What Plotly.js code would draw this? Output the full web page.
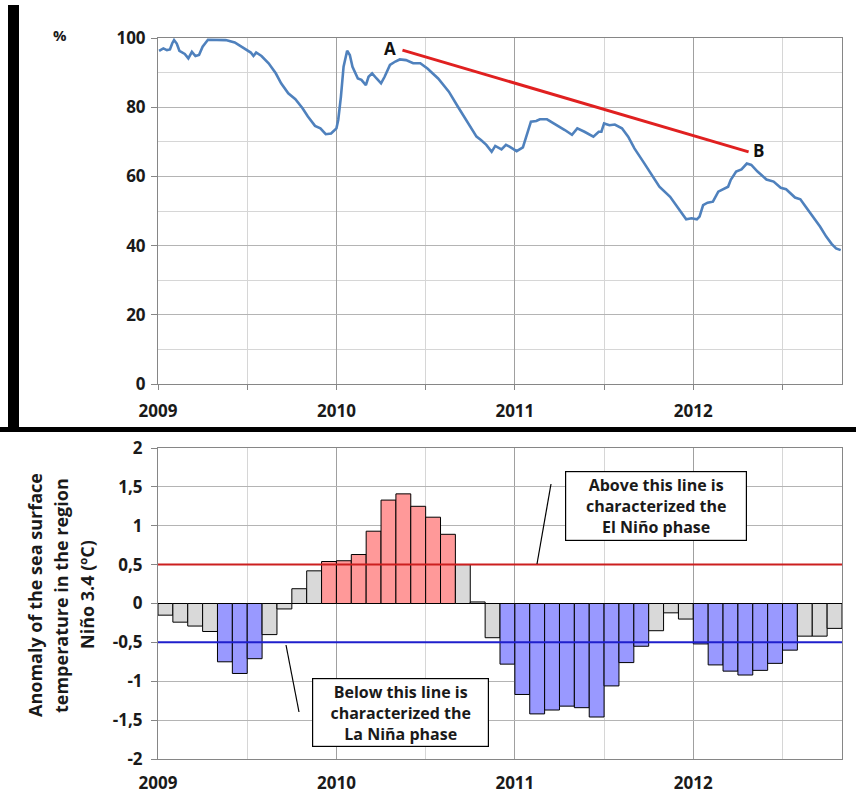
<!DOCTYPE html>
<html><head><meta charset="utf-8">
<script src="https://cdn.plot.ly/plotly-3.0.1.min.js"></script>
<style>html,body{margin:0;padding:0;background:#fff}#chart{width:856px;height:794px}</style>
</head><body><div id="chart"></div>
<script>
// ---------- data ----------
const humidityT = [2009.006,2009.03,2009.05,2009.067,2009.08,2009.09,2009.105,2009.12,2009.15,2009.17,2009.19,2009.21,2009.23,2009.25,2009.28,2009.30,2009.34,2009.38,2009.43,2009.48,2009.52,2009.535,2009.55,2009.58,2009.62,2009.66,2009.69,2009.73,2009.77,2009.81,2009.84,2009.88,2009.91,2009.94,2009.97,2010.00,2010.01,2010.025,2010.04,2010.06,2010.075,2010.09,2010.12,2010.14,2010.165,2010.18,2010.20,2010.225,2010.25,2010.27,2010.30,2010.33,2010.355,2010.39,2010.43,2010.47,2010.51,2010.57,2010.63,2010.68,2010.74,2010.785,2010.81,2010.84,2010.87,2010.89,2010.925,2010.95,2010.97,2011.01,2011.045,2011.065,2011.09,2011.12,2011.14,2011.18,2011.22,2011.28,2011.32,2011.35,2011.39,2011.44,2011.47,2011.485,2011.50,2011.53,2011.56,2011.60,2011.635,2011.67,2011.72,2011.765,2011.81,2011.87,2011.915,2011.96,2011.99,2012.02,2012.035,2012.055,2012.08,2012.11,2012.14,2012.17,2012.195,2012.21,2012.24,2012.27,2012.30,2012.325,2012.36,2012.41,2012.45,2012.49,2012.52,2012.57,2012.60,2012.63,2012.67,2012.71,2012.745,2012.775,2012.80,2012.826];
const humidityV = [96.3,97.0,96.5,96.7,98.5,99.4,98.4,96.3,95.4,94.1,96.0,94.8,95.1,97.5,99.5,99.5,99.5,99.4,98.7,97.0,95.8,94.8,95.8,94.8,92.7,89.8,86.9,84.0,82.3,79.7,77.3,74.6,73.9,72.2,72.4,73.9,76.3,83.0,91.7,96.3,95.1,91.7,88.3,87.9,86.4,88.8,89.8,88.3,86.9,88.8,92.2,93.2,93.8,93.6,92.7,92.7,91.2,88.3,84.5,80.2,75.3,71.5,70.5,69.1,67.1,68.8,67.8,69.1,68.6,67.3,68.4,71.5,75.8,76.0,76.5,76.5,75.3,73.4,72.0,73.9,72.9,71.5,72.9,72.9,75.3,74.8,75.0,73.9,71.5,68.1,64.2,60.4,57.0,54.1,50.7,47.6,47.9,47.6,48.4,51.7,52.4,52.7,55.6,56.5,57.0,59.0,61.4,62.0,63.7,63.3,61.4,59.1,58.5,56.7,56.3,53.9,53.4,51.2,48.4,45.5,42.6,40.5,39.2,38.7];
const trendX = [2010.37, 2012.31];
const trendY = [96.5, 67.1];
const trendLabels = ['A', 'B'];

const ninoStartYear = 2009;   // first bar = January 2009, monthly
const ninoValues = [-0.15,-0.24,-0.29,-0.36,-0.75,-0.90,-0.71,-0.40,-0.07,0.19,0.42,0.54,
  0.55,0.63,0.93,1.33,1.41,1.25,1.11,0.89,0.50,0.02,-0.44,-0.78,
  -1.17,-1.42,-1.37,-1.32,-1.34,-1.46,-1.06,-0.76,-0.55,-0.35,-0.12,-0.20,
  -0.52,-0.79,-0.87,-0.92,-0.86,-0.77,-0.60,-0.42,-0.42,-0.32];
const elNinoThreshold = 0.5;
const laNinaThreshold = -0.5;

const yearTickVals = [2009, 2010, 2011, 2012];
const yearTickText = ['2009', '2010', '2011', '2012'];
const topYTickVals = [0, 20, 40, 60, 80, 100];
const botYTickVals = [-2, -1.5, -1, -0.5, 0, 0.5, 1, 1.5, 2];
const botYTickText = ['-2', '-1,5', '-1', '-0,5', '0', '0,5', '1', '1,5', '2'];
const elNinoNote = 'Above this line is<br>characterized the<br>El Niño phase';
const laNinaNote = 'Below this line is<br>characterized the<br>La Niña phase';
const yTitleLines = ['Anomaly of the sea surface', 'temperature in the region', 'Niño 3.4 (ºC)'];

// ---------- derived ----------
const W = 856, H = 794;
const px = v => v / W;
const py = v => 1 - v / H;
const barX = ninoValues.map((v, i) => ninoStartYear + (i + 0.5) / 12);
const xEnd = ninoStartYear + ninoValues.length / 12;
const barColors = ninoValues.map(v => v > elNinoThreshold ? '#ff9999' : (v < laNinaThreshold ? '#9999ff' : '#d9d9d9'));

const FONT = 'Open Sans, Liberation Sans, sans-serif';
const tickFont = {family: FONT, size: 17, color: '#1a1a1a', weight: 'bold'};

function xAxis(domain, anchor) {
  return {
    domain, anchor, range: [ninoStartYear, xEnd], tickmode: 'array',
    tickvals: yearTickVals, ticktext: yearTickText,
    ticks: 'outside', ticklen: 5, tickcolor: '#868686',
    showgrid: true, gridcolor: '#a0a0a0', gridwidth: 1,
    minor: {tickmode: 'linear', tick0: ninoStartYear, dtick: 0.5, showgrid: true, gridcolor: '#d6d6d6', ticks: 'outside', ticklen: 5, tickcolor: '#868686'},
    showline: true, mirror: true, linecolor: '#868686', linewidth: 1,
    zeroline: false, tickfont: tickFont, ticklabelstandoff: 7, automargin: false, fixedrange: true
  };
}

const xDom = [px(158), px(842)];
const layout = {
  width: W, height: H, margin: {l: 0, r: 0, t: 0, b: 0},
  paper_bgcolor: '#ffffff', plot_bgcolor: '#ffffff', showlegend: false,
  xaxis: xAxis(xDom, 'y'),
  yaxis: {
    domain: [py(384), py(38)], anchor: 'x', range: [0, 100], tickmode: 'array', tickvals: topYTickVals,
    ticks: 'outside', ticklen: 6, tickcolor: '#868686',
    showgrid: true, gridcolor: '#b4b4b4',
    minor: {tickmode: 'linear', tick0: 0, dtick: 10, showgrid: true, gridcolor: '#d6d6d6'},
    showline: true, mirror: true, linecolor: '#868686', zeroline: false,
    tickfont: tickFont, ticklabelstandoff: 2, automargin: false, fixedrange: true
  },
  xaxis2: Object.assign(xAxis(xDom, 'y2'), {ticks: '', minor: {tickmode: 'linear', tick0: ninoStartYear, dtick: 0.5, showgrid: true, gridcolor: '#d6d6d6'}, ticklabelstandoff: 9}),
  yaxis2: {
    domain: [py(759), py(448)], anchor: 'x2', range: [-2, 2], tickmode: 'array',
    tickvals: botYTickVals, ticktext: botYTickText,
    ticks: 'outside', ticklen: 6, tickcolor: '#868686',
    showgrid: true, gridcolor: '#b4b4b4',
    showline: true, mirror: true, linecolor: '#868686', zeroline: false,
    tickfont: tickFont, ticklabelstandoff: 5, automargin: false, fixedrange: true
  },
  bargap: 0,
  shapes: [
    // black separators of the original figure
    {type: 'rect', xref: 'paper', yref: 'paper', x0: px(8), x1: px(19), y0: py(5), y1: py(430), fillcolor: '#000', line: {width: 0}},
    {type: 'rect', xref: 'paper', yref: 'paper', x0: 0, x1: 1, y0: py(427), y1: py(432), fillcolor: '#000', line: {width: 0}},
    // pointer lines for the notes
    {type: 'line', xref: 'paper', yref: 'paper', x0: px(551), y0: py(484), x1: px(537), y1: py(564), line: {color: '#000', width: 1.2}},
    {type: 'line', xref: 'paper', yref: 'paper', x0: px(286), y0: py(645), x1: px(299), y1: py(712), line: {color: '#000', width: 1.2}}
  ],
  annotations: [
    {xref: 'paper', yref: 'paper', x: px(60), y: py(35), text: '%', showarrow: false, xanchor: 'center', yanchor: 'middle',
      font: {family: FONT, size: 15, color: '#1a1a1a', weight: 'bold'}},
    {xref: 'x', yref: 'y', x: trendX[0], y: trendY[0], text: trendLabels[0], showarrow: false, xanchor: 'right', yanchor: 'middle', xshift: -4, yshift: 2,
      font: {family: FONT, size: 17, color: '#111', weight: 'bold'}},
    {xref: 'x', yref: 'y', x: trendX[1], y: trendY[1], text: trendLabels[1], showarrow: false, xanchor: 'left', yanchor: 'middle', xshift: 2, yshift: 1,
      font: {family: FONT, size: 17, color: '#111', weight: 'bold'}},
    {xref: 'paper', yref: 'paper', x: px(656), y: py(506), text: elNinoNote, showarrow: false, xanchor: 'center', yanchor: 'middle',
      width: 180, height: 68, borderpad: 0, bordercolor: '#000', borderwidth: 1.2, bgcolor: '#fff',
      font: {family: FONT, size: 16, color: '#1a1a1a', weight: 'bold'}},
    {xref: 'paper', yref: 'paper', x: px(400.5), y: py(712.5), text: laNinaNote, showarrow: false, xanchor: 'center', yanchor: 'middle',
      width: 175, height: 67, borderpad: 0, bordercolor: '#000', borderwidth: 1.2, bgcolor: '#fff',
      font: {family: FONT, size: 16, color: '#1a1a1a', weight: 'bold'}}
  ].concat(yTitleLines.map((t, i) => ({
    xref: 'paper', yref: 'paper', x: px(35 + i * 26), y: py(595), text: t, textangle: -90, showarrow: false,
    xanchor: 'center', yanchor: 'middle', font: {family: FONT, size: 18, color: '#1a1a1a', weight: 'bold'}
  })))
};

const data = [
  {type: 'scatter', mode: 'lines', x: humidityT, y: humidityV, xaxis: 'x', yaxis: 'y',
    line: {color: '#4f81bd', width: 2.6, shape: 'linear'}, hoverinfo: 'skip'},
  {type: 'scatter', mode: 'lines', x: trendX, y: trendY, xaxis: 'x', yaxis: 'y',
    line: {color: '#e02020', width: 3}, hoverinfo: 'skip'},
  {type: 'bar', x: barX, y: ninoValues, width: 1 / 12, xaxis: 'x2', yaxis: 'y2',
    marker: {color: barColors, line: {color: '#000', width: 1}}, hoverinfo: 'skip'},
  {type: 'scatter', mode: 'lines', x: [ninoStartYear, xEnd], y: [elNinoThreshold, elNinoThreshold], xaxis: 'x2', yaxis: 'y2',
    line: {color: '#cc1f1f', width: 2}, hoverinfo: 'skip'},
  {type: 'scatter', mode: 'lines', x: [ninoStartYear, xEnd], y: [laNinaThreshold, laNinaThreshold], xaxis: 'x2', yaxis: 'y2',
    line: {color: '#1f1fcc', width: 2}, hoverinfo: 'skip'}
];

Plotly.newPlot('chart', data, layout, {displayModeBar: false, staticPlot: true});
</script>
</body></html>
